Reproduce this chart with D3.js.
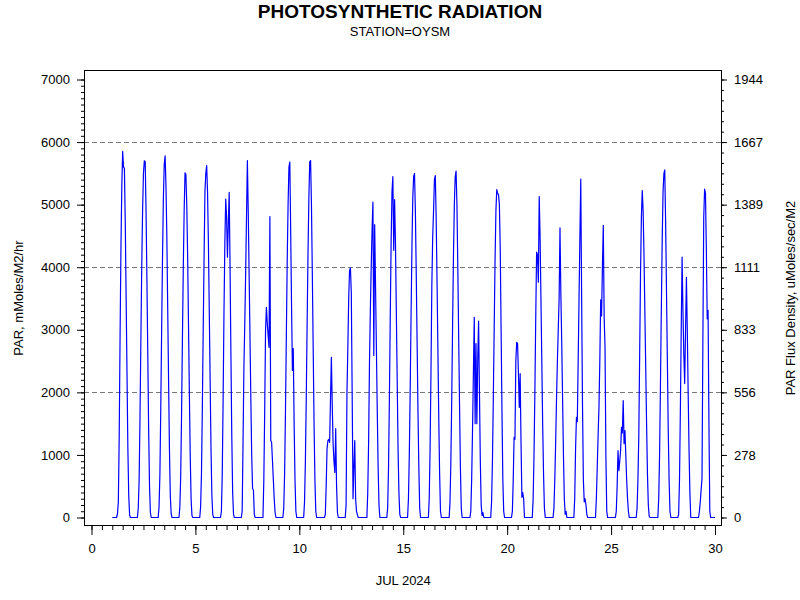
<!DOCTYPE html>
<html>
<head>
<meta charset="utf-8">
<script src="https://cdn.jsdelivr.net/npm/d3@7"></script>
<style>
  body { margin: 0; background: #fff; }
  svg { display: block; font-family: "Liberation Sans", Arial, sans-serif; }
</style>
</head>
<body>
<div id="chart"></div>
<script>
// July 2024 days with data, hourly readings kept for hours 5..21 (night hours are 0)
const days = [1, 2, 3, 4, 5, 6, 7, 8, 9, 10, 11, 12, 13, 14, 15, 16, 17, 18, 19, 20, 21, 22, 23, 24, 25, 26, 27, 28, 29];
const hours = [5, 6, 7, 8, 9, 10, 11, 12, 13, 14, 15, 16, 17, 18, 19, 20, 21];
const parByDay = [
    [0, 60, 250, 1300, 2900, 4300, 5300, 5850, 5600, 5580, 4700, 3500, 2300, 1100, 350, 40, 0],
    [0, 150, 600, 1600, 2800, 4000, 4900, 5500, 5700, 5690, 4900, 3800, 2600, 1400, 500, 80, 0],
    [0, 170, 700, 1750, 3000, 4150, 5100, 5650, 5780, 5300, 4500, 3350, 2200, 1100, 350, 60, 0],
    [0, 160, 650, 1650, 2850, 4000, 4900, 5510, 5480, 5000, 4200, 3100, 2000, 1000, 300, 30, 0],
    [0, 170, 700, 1750, 3000, 4150, 5200, 5500, 5625, 5200, 4400, 3300, 2200, 1100, 350, 50, 0],
    [0, 100, 700, 1900, 3300, 4400, 5090, 4800, 4160, 4700, 5195, 4000, 2600, 1300, 400, 50, 0],
    [0, 100, 1200, 2400, 3100, 3900, 4800, 5705, 4900, 3900, 2900, 1900, 1000, 460, 440, 50, 0],
    [0, 0, 600, 1700, 3000, 3360, 3100, 2900, 2720, 4810, 1230, 1200, 900, 600, 300, 80, 0],
    [0, 150, 700, 1700, 2900, 4100, 5000, 5600, 5680, 4600, 3400, 2350, 2700, 1500, 600, 100, 0],
    [0, 250, 900, 1900, 3100, 4200, 5100, 5680, 5705, 5000, 3900, 2700, 1500, 600, 100, 0, 0],
    [0, 50, 500, 1100, 1230, 1250, 1200, 1900, 2560, 1800, 1170, 900, 720, 1420, 500, 80, 0],
    [0, 200, 1980, 2700, 3500, 3950, 3990, 3600, 2000, 300, 800, 1230, 300, 100, 50, 0, 0],
    [0, 0, 400, 1200, 2460, 3300, 4000, 4600, 5040, 2590, 4680, 3700, 2700, 1700, 800, 200, 0],
    [0, 150, 800, 1900, 3200, 4400, 5200, 5450, 4270, 5080, 4400, 3300, 2200, 1100, 400, 50, 0],
    [0, 300, 1000, 2000, 3200, 4300, 5100, 5450, 5500, 4900, 3900, 2800, 1700, 800, 150, 0, 0],
    [0, 300, 1100, 2300, 3700, 4480, 4900, 5400, 5465, 4800, 3800, 2700, 1600, 700, 100, 0, 0],
    [0, 250, 900, 1900, 3100, 4200, 5000, 5450, 5535, 5000, 4000, 2900, 1800, 800, 150, 0, 0],
    [0, 100, 600, 1400, 2300, 3200, 1500, 2780, 1500, 2500, 3140, 2000, 900, 200, 30, 80, 0],
    [0, 250, 900, 1900, 3000, 4100, 4900, 5240, 5180, 5160, 5000, 4300, 3000, 1700, 600, 100, 0],
    [0, 100, 600, 1280, 1250, 2500, 2800, 2780, 2300, 1760, 2300, 1200, 320, 400, 300, 0, 0],
    [0, 300, 1000, 2000, 3200, 4240, 4200, 3760, 5130, 4500, 3500, 2500, 1500, 700, 150, 0, 0],
    [0, 150, 600, 1200, 1900, 2500, 3000, 3500, 4630, 3575, 2800, 1900, 1000, 300, 50, 100, 0],
    [0, 300, 1100, 1600, 1530, 2500, 3500, 4500, 5410, 3500, 1800, 600, 250, 300, 200, 50, 0],
    [0, 0, 300, 800, 1300, 1760, 2500, 3480, 3220, 4000, 4670, 3200, 2720, 1000, 100, 0, 0],
    [0, 100, 500, 1070, 750, 900, 1070, 1440, 1350, 1870, 1180, 1390, 1000, 600, 300, 100, 0],
    [0, 150, 600, 1300, 2600, 3900, 4800, 5225, 4900, 4200, 3300, 2400, 1500, 700, 200, 20, 0],
    [0, 0, 300, 1000, 2100, 3300, 4400, 5200, 5500, 5555, 4700, 3600, 2500, 1400, 600, 100, 0],
    [0, 50, 600, 1700, 3000, 4160, 3300, 2600, 2140, 3000, 3840, 3000, 2000, 1100, 400, 0, 0],
    [0, 100, 250, 450, 620, 2800, 4800, 5250, 5180, 4300, 3175, 3310, 1500, 100, 0, 0, 0]
];

const leftTicks = [0, 1000, 2000, 3000, 4000, 5000, 6000, 7000];
const rightTickLabels = ["0", "278", "556", "833", "1111", "1389", "1667", "1944"];
const xTicks = [0, 5, 10, 15, 20, 25, 30];
const gridValues = [2000, 4000, 6000];

const width = 800;
const height = 600;
const frame = { left: 84, right: 721, top: 70, bottom: 525 };

const svg = d3.select("#chart")
    .append("svg")
    .attr("width", width)
    .attr("height", height);

svg.append("rect").attr("width", width).attr("height", height).attr("fill", "#fff");

const x = d3.scaleLinear().domain([0, 30]).range([91.5, 715]);
const y = d3.scaleLinear().domain([0, 7000]).range([517.5, 79.5]);

// hourly series: one point per hour, zero outside the kept daylight hours
const points = [];
days.forEach((d, i) => {
    for (let h = 0; h < 24; h++) {
        const k = hours.indexOf(h);
        points.push([d + h / 24, k < 0 ? 0 : parByDay[i][k]]);
    }
});
points.push([30, 0]);

// dashed reference lines
svg.append("g")
    .selectAll("line")
    .data(gridValues)
    .enter().append("line")
    .attr("x1", frame.left)
    .attr("x2", frame.right)
    .attr("y1", d => Math.round(y(d)) + 0.5)
    .attr("y2", d => Math.round(y(d)) + 0.5)
    .attr("stroke", "#777")
    .attr("stroke-dasharray", "5,3");

function styleAxis(g) {
    g.select(".domain").remove();
    g.selectAll("line").attr("stroke", "#000");
    g.selectAll("text")
        .attr("font-size", 13)
        .attr("font-family", "'Liberation Sans', Arial, sans-serif")
        .attr("fill", "#000");
}

// left axis
svg.append("g")
    .attr("transform", `translate(${frame.left},0)`)
    .call(d3.axisLeft(y).tickValues(d3.range(0, 7001, 100)).tickSize(3).tickFormat(""))
    .call(styleAxis);
svg.append("g")
    .attr("transform", `translate(${frame.left},0)`)
    .call(d3.axisLeft(y).tickValues(leftTicks).tickSize(7).tickPadding(7).tickFormat(d3.format("d")))
    .call(styleAxis);

// right axis (same positions, flux units)
svg.append("g")
    .attr("transform", `translate(${frame.right},0)`)
    .call(d3.axisRight(y).tickValues(d3.range(0, 43).map(i => i * 1000 / 6)).tickSize(3).tickFormat(""))
    .call(styleAxis);
svg.append("g")
    .attr("transform", `translate(${frame.right},0)`)
    .call(d3.axisRight(y).tickValues(leftTicks).tickSize(6).tickPadding(7)
        .tickFormat((d, i) => rightTickLabels[i]))
    .call(styleAxis);

// bottom axis
svg.append("g")
    .attr("transform", `translate(0,${frame.bottom + 1})`)
    .call(d3.axisBottom(x).tickValues(d3.range(0, 30.01, 0.5)).tickSize(4).tickFormat(""))
    .call(styleAxis);
svg.append("g")
    .attr("transform", `translate(0,${frame.bottom + 1})`)
    .call(d3.axisBottom(x).tickValues(xTicks).tickSize(9).tickPadding(9).tickFormat(d3.format("d")))
    .call(styleAxis);

// frame
svg.append("rect")
    .attr("x", frame.left + 0.5)
    .attr("y", frame.top + 0.5)
    .attr("width", frame.right - frame.left)
    .attr("height", frame.bottom - frame.top)
    .attr("fill", "none")
    .attr("stroke", "#000");

// PAR line
const line = d3.line()
    .x(d => x(d[0]))
    .y(d => y(d[1]));

svg.append("path")
    .datum(points)
    .attr("fill", "none")
    .attr("stroke", "#0000ff")
    .attr("stroke-width", 1.2)
    .attr("stroke-linejoin", "round")
    .attr("d", line);

// titles
svg.append("text")
    .attr("x", 400)
    .attr("y", 18)
    .attr("text-anchor", "middle")
    .attr("font-size", 19)
    .attr("font-weight", "bold")
    .text("PHOTOSYNTHETIC RADIATION");

svg.append("text")
    .attr("x", 400)
    .attr("y", 36)
    .attr("text-anchor", "middle")
    .attr("font-size", 13)
    .text("STATION=OYSM");

svg.append("text")
    .attr("x", (x(0) + x(30)) / 2)
    .attr("y", 585)
    .attr("text-anchor", "middle")
    .attr("font-size", 13)
    .text("JUL 2024");

svg.append("text")
    .attr("transform", "translate(23,298) rotate(-90)")
    .attr("text-anchor", "middle")
    .attr("font-size", 13)
    .text("PAR, mMoles/M2/hr");

svg.append("text")
    .attr("transform", "translate(795,298) rotate(-90)")
    .attr("text-anchor", "middle")
    .attr("font-size", 13)
    .text("PAR Flux Density, uMoles/sec/M2");
</script>
</body>
</html>
